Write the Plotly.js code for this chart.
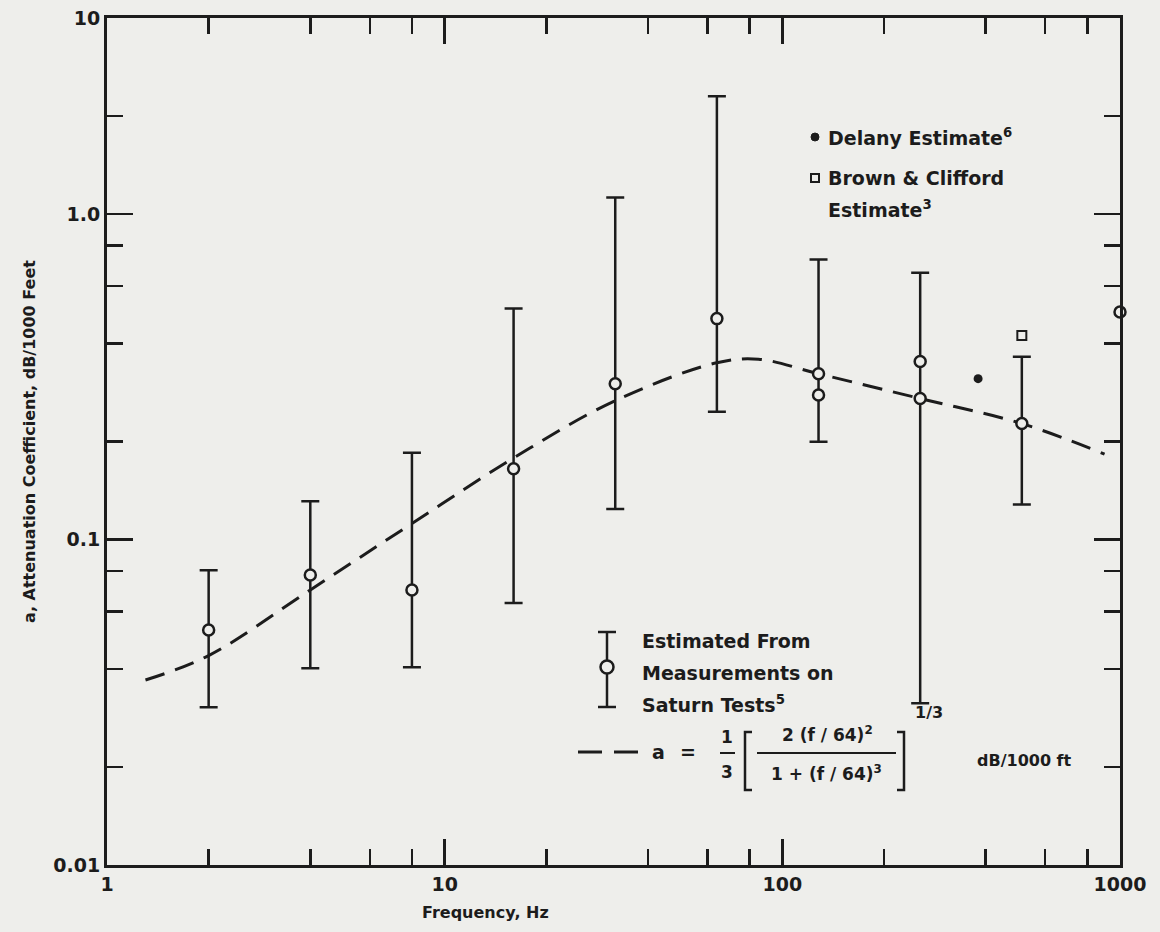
<!DOCTYPE html>
<html>
<head>
<meta charset="utf-8">
<script src="https://cdn.plot.ly/plotly-3.0.1.min.js"></script>
<style>
html,body{margin:0;padding:0;background:#eeeeeb;}
#chart{width:1160px;height:932px;}
</style>
</head>
<body>
<div id="chart"></div>
<script>
// ---- data ----
// Saturn tests: octave-band centre frequencies, central estimates, bar ends
const satFreq  = [2, 4, 8, 16, 32, 64, 128, 256, 512];
const satValue = [0.0527, 0.0778, 0.070, 0.165, 0.301, 0.477, 0.323, 0.271, 0.227];
const satUpper = [0.0805, 0.131, 0.1846, 0.512, 1.124, 2.30, 0.725, 0.66, 0.364];
const satLower = [0.0305, 0.0402, 0.0405, 0.0638, 0.124, 0.247, 0.1995, 0.0314, 0.128];
// additional circles without their own bar
const extraFreq  = [128, 256, 1000];
const extraValue = [0.278, 0.352, 0.50];
// Delany estimate
const delanyFreq  = [380];
const delanyValue = [0.312];
// Brown & Clifford estimate
const brownFreq  = [512];
const brownValue = [0.423];
// dashed curve a = 1/3 [2(f/64)^2/(1+(f/64)^3)]^(1/3)
const curveFreq  = [1.3, 2, 4, 8, 16, 32, 64, 85, 128, 256, 512, 900];
const curveValue = [0.037, 0.044, 0.070, 0.112, 0.178, 0.267, 0.349, 0.358, 0.323, 0.271, 0.227, 0.183];
// axis ticks
const xTickVals = [1, 10, 100, 1000];
const xTickText = ['1', '10', '100', '1000'];
const xMinorVals = [2, 4, 6, 8, 20, 40, 60, 80, 200, 400, 600, 800];
const yTopValue = 4;
const yTickVals = [0.01, 0.1, 1, yTopValue];
const yTickText = ['0.01', '0.1', '1.0', '10'];
const yMinorVals = [0.02, 0.04, 0.06, 0.08, 0.2, 0.4, 0.6, 0.8, 2];

// ---- style ----
const INK = '#1c1c1c';
const BG = '#eeeeeb';
const FONT = 'DejaVu Sans';
const L = 107, R = 1120, T = 18, B = 865;
const PX = x => (x - L) / (R - L);
const PY = y => (B - y) / (B - T);

const errUp = satUpper.map((u, i) => u - satValue[i]);
const errDn = satValue.map((v, i) => v - satLower[i]);

const circleMarker = {symbol: 'circle', size: 11, color: BG, line: {color: INK, width: 2.5}};

const traces = [
  {x: curveFreq, y: curveValue, type: 'scatter', mode: 'lines',
   line: {color: INK, width: 3, dash: '20px,11px', shape: 'spline'}, hoverinfo: 'skip'},
  {x: satFreq, y: satValue, type: 'scatter', mode: 'markers', marker: circleMarker,
   error_y: {type: 'data', symmetric: false, array: errUp, arrayminus: errDn,
             color: INK, thickness: 2.5, width: 9}, cliponaxis: false},
  {x: extraFreq, y: extraValue, type: 'scatter', mode: 'markers', marker: circleMarker, cliponaxis: false},
  {x: delanyFreq, y: delanyValue, type: 'scatter', mode: 'markers',
   marker: {symbol: 'circle', size: 9, color: INK}},
  {x: brownFreq, y: brownValue, type: 'scatter', mode: 'markers',
   marker: {symbol: 'square', size: 9, color: BG, line: {color: INK, width: 2}}}
];

function txt(text, x, y, size, anchor, extra) {
  return Object.assign({text: text, xref: 'paper', yref: 'paper', x: PX(x), y: PY(y),
    xanchor: anchor || 'left', yanchor: 'middle', showarrow: false,
    font: {family: FONT, size: size, color: INK, weight: 'bold'}}, extra || {});
}
function line(x0, y0, x1, y1, w, dash) {
  return {type: 'line', xref: 'paper', yref: 'paper', x0: PX(x0), y0: PY(y0), x1: PX(x1), y1: PY(y1),
    line: {color: INK, width: w || 2.5, dash: dash || 'solid'}};
}

const annotations = [
  txt('Delany Estimate<sup>6</sup>', 826, 137, 19),
  txt('Brown &amp; Clifford', 826, 178, 19),
  txt('Estimate<sup>3</sup>', 826, 209, 19),
  txt('Estimated From', 640, 641, 19),
  txt('Measurements on', 640, 673, 19),
  txt('Saturn Tests<sup>5</sup>', 640, 704, 19),
  txt('a', 658, 752, 19, 'center'),
  txt('=', 688, 752, 19, 'center'),
  txt('1', 727, 737, 17, 'center'),
  txt('3', 727, 772, 17, 'center'),
  txt('2 (f / 64)<sup>2</sup>', 827, 734, 17, 'center'),
  txt('1 + (f / 64)<sup>3</sup>', 826, 773, 17, 'center'),
  txt('1/3', 929, 712, 16, 'center'),
  txt('dB/1000 ft', 1024, 760, 16, 'center'),
  txt('Frequency, Hz', 485, 912, 16, 'center')
];

const shapes = [
  // legend symbol: bar with circle
  line(607, 632, 607, 707),
  line(598, 632, 616, 632),
  line(598, 707, 616, 707),
  {type: 'circle', xref: 'paper', yref: 'paper', x0: PX(600.5), x1: PX(613.5), y0: PY(660.5), y1: PY(673.5),
   fillcolor: BG, line: {color: INK, width: 2.5}},
  // legend dots
  {type: 'circle', xref: 'paper', yref: 'paper', x0: PX(811), x1: PX(819), y0: PY(133), y1: PY(141),
   fillcolor: INK, line: {color: INK, width: 1}},
  {type: 'rect', xref: 'paper', yref: 'paper', x0: PX(811), x1: PX(819), y0: PY(174), y1: PY(182),
   fillcolor: BG, line: {color: INK, width: 2}},
  // dashed-line legend sample
  line(578, 752, 640, 752, 3, '24px,12px'),
  // 1/3 fraction bar
  line(720, 753, 735, 753, 2),
  // big fraction bar
  line(757, 753, 896, 753, 2),
  // brackets
  {type: 'path', xref: 'paper', yref: 'paper',
   path: 'M' + PX(752) + ',' + PY(732) + ' L' + PX(745) + ',' + PY(732) + ' L' + PX(745) + ',' + PY(790) + ' L' + PX(752) + ',' + PY(790),
   line: {color: INK, width: 2.5}},
  {type: 'path', xref: 'paper', yref: 'paper',
   path: 'M' + PX(897) + ',' + PY(732) + ' L' + PX(904) + ',' + PY(732) + ' L' + PX(904) + ',' + PY(790) + ' L' + PX(897) + ',' + PY(790),
   line: {color: INK, width: 2.5}}
];

const axisCommon = {
  type: 'log', showgrid: false, zeroline: false,
  showline: true, linecolor: INK, linewidth: 3, mirror: 'ticks',
  ticks: 'inside', ticklen: 26, tickwidth: 2.5, tickcolor: INK,
  tickmode: 'array',
  tickfont: {family: FONT, size: 19, color: INK, weight: 'bold'}
};

const layout = {
  width: 1160, height: 932,
  paper_bgcolor: BG, plot_bgcolor: BG,
  margin: {l: L, r: 1160 - R, t: T, b: 932 - B},
  showlegend: false,
  xaxis: Object.assign({}, axisCommon, {
    range: [0, 3], tickvals: xTickVals, ticktext: xTickText,
    minor: {tickmode: 'array', tickvals: xMinorVals, ticks: 'inside', ticklen: 16, tickwidth: 2.5, tickcolor: INK, showgrid: false}
  }),
  yaxis: Object.assign({}, axisCommon, {
    range: [-2, Math.log10(yTopValue)], tickvals: yTickVals, ticktext: yTickText,
    minor: {tickmode: 'array', tickvals: yMinorVals, ticks: 'inside', ticklen: 16, tickwidth: 2.5, tickcolor: INK, showgrid: false},
    title: {text: 'a, Attenuation Coefficient, dB/1000 Feet', standoff: 14,
            font: {family: FONT, size: 16, color: INK, weight: 'bold'}}
  }),
  annotations: annotations,
  shapes: shapes
};

Plotly.newPlot('chart', traces, layout, {staticPlot: true, displayModeBar: false});
</script>
</body>
</html>
